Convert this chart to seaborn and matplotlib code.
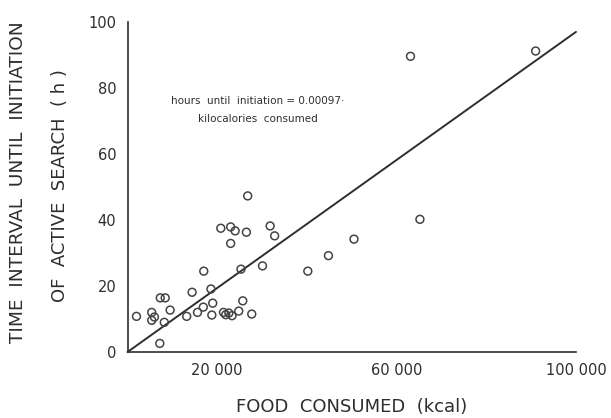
import matplotlib
matplotlib.use("Agg")
import matplotlib.pyplot as plt
import seaborn as sns
import pandas as pd

# Food consumed (kcal) and time until active search began (h)
food_kcal = [2000, 5400, 5400, 6000, 7300, 8400, 8200, 9500, 7200, 13200,
             14400, 15600, 16900, 17000, 18600, 19000, 18800, 21400, 21900, 23300,
             22600, 24800, 25700, 27700, 25300, 20800, 23000, 24000, 23000, 26500,
             26800, 31800, 32800, 30100, 40200, 44800, 50500, 63100, 91000, 65200]
hours = [10.8, 12.0, 9.6, 10.6, 16.4, 16.4, 9.0, 12.7, 2.6, 10.8,
         18.1, 12.0, 13.6, 24.5, 19.1, 14.8, 11.2, 12.0, 11.3, 11.0,
         11.8, 12.4, 15.5, 11.5, 25.1, 37.5, 37.9, 36.7, 32.9, 36.3,
         47.3, 38.2, 35.2, 26.1, 24.5, 29.2, 34.2, 89.6, 91.2, 40.2]

# Regression through the origin
slope = 0.00097
fit_x = [0, 100000]

x_ticks = [0, 20000, 40000, 60000, 80000, 100000]
x_tick_labels = ["", "20 000", "", "60 000", "", "100 000"]
y_ticks = [0, 20, 40, 60, 80, 100]
y_tick_labels = ["0", "20", "40", "60", "80", "100"]

sns.set_theme(style="white")
plt.rcParams["font.family"] = ["DejaVu Sans"]

ink = "#2e2e2e"
df = pd.DataFrame({"food": food_kcal, "hours": hours})
fit = pd.DataFrame({"food": fit_x, "hours": [slope * v for v in fit_x]})

fig = plt.figure(figsize=(6.11, 4.18), dpi=100)
ax = fig.add_axes([0.2087, 0.1579, 0.7340, 0.7895])

sns.lineplot(data=fit, x="food", y="hours", ax=ax, color=ink, linewidth=1.4)
sns.scatterplot(data=df, x="food", y="hours", ax=ax, marker="o", s=32,
                facecolor="none", edgecolor="#444444", linewidth=1.1, zorder=3)

ax.set_xlim(0, 100000)
ax.set_ylim(0, 100)
for l in ax.lines:
    l.set_clip_on(False)
for c in ax.collections:
    c.set_clip_on(False)

ax.set_xticks(x_ticks)
ax.set_xticklabels(x_tick_labels, fontsize=10.5, color=ink)
ax.set_yticks(y_ticks)
ax.set_yticklabels(y_tick_labels, fontsize=10.5, color=ink)
ax.tick_params(axis="x", direction="in", length=4, width=1, color=ink, pad=8)
ax.tick_params(axis="y", direction="out", length=3, width=1, color=ink, pad=5)

for side in ("top", "right"):
    ax.spines[side].set_visible(False)
for side in ("left", "bottom"):
    ax.spines[side].set_color(ink)
    ax.spines[side].set_linewidth(1.2)

ax.set_xlabel("FOOD  CONSUMED  (kcal)", fontsize=13, color=ink, labelpad=14)
ax.set_ylabel("")
fig.text(0.030, 0.565, "TIME  INTERVAL  UNTIL  INITIATION", rotation=90,
         ha="center", va="center", fontsize=13.3, color=ink)
fig.text(0.098, 0.555, "OF  ACTIVE  SEARCH  ( h )", rotation=90,
         ha="center", va="center", fontsize=13, color=ink)

ax.text(29000, 73.3, "hours  until  initiation = 0.00097·\nkilocalories  consumed",
        ha="center", va="center", fontsize=7.5, color=ink, linespacing=2.1)

fig.savefig("out.png", dpi=100, facecolor="white")
